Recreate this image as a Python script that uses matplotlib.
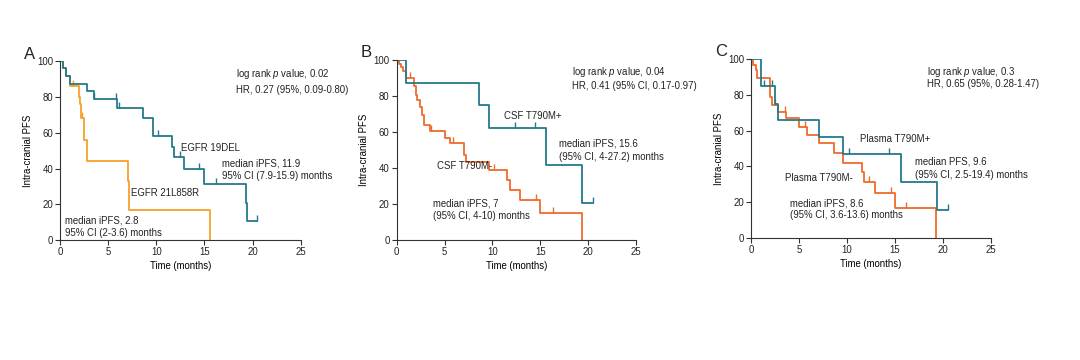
import matplotlib
matplotlib.use("Agg")
import matplotlib.pyplot as plt

plt.rcParams['font.family'] = ['Liberation Sans', 'DejaVu Sans']
plt.rcParams['mathtext.fontset'] = 'custom'
plt.rcParams['mathtext.rm'] = 'Liberation Sans'
plt.rcParams['mathtext.it'] = 'Liberation Sans:italic'

TEAL = "#23798b"
ORANGE_A = "#f5a02a"
ORANGE_BC = "#ef6b2b"

# ---- Panel A: EGFR 19DEL vs EGFR 21L858R ----
a_del_t = [0, 0.3, 0.6, 1.0, 2.8, 3.5, 5.9, 8.6, 9.6, 11.6, 11.8, 12.9, 15.0, 19.3, 19.4, 20.5]
a_del_s = [100, 96, 92, 87.5, 83.3, 79, 74, 68.5, 58, 52, 46.5, 40, 31.5, 21, 10.5, 10.5]
a_del_ct = [3.5, 5.8, 6.1, 10.2, 12.5, 14.4, 16.2, 20.5]
a_del_cs = [79, 79, 74, 58, 46.5, 40, 31.5, 10.5]

a_l858_t = [0, 0.3, 0.6, 1.0, 1.9, 2.05, 2.2, 2.5, 2.8, 7.0, 7.1, 15.6]
a_l858_s = [100, 96, 92, 86, 80, 76, 68, 56, 44.5, 33, 16.7, 0]
a_l858_ct = [1.3, 2.3]
a_l858_cs = [86, 68]

# ---- Panel B: CSF T790M+ vs CSF T790M- ----
b_pos_t = [0, 1.0, 8.6, 9.6, 15.6, 19.4, 20.5]
b_pos_s = [100, 87.5, 75, 62.5, 41.7, 20.8, 20.8]
b_pos_ct = [12.4, 14.4, 20.5]
b_pos_cs = [62.5, 62.5, 20.8]

b_neg_t = [0, 0.2, 0.5, 0.7, 1.0, 1.8, 2.0, 2.15, 2.4, 2.6, 2.85, 3.5, 5.05, 5.6, 7.0, 7.2,
           9.6, 11.5, 11.8, 12.9, 15.0, 19.4]
b_neg_s = [100, 98, 96, 94, 90, 85.5, 80.5, 77.8, 74, 69.4, 63.9, 60.5, 56.5, 53.7, 47.2, 43.5,
           38.8, 33.3, 27.8, 22.2, 14.8, 0]
b_neg_ct = [1.4, 3.6, 5.9, 10.2, 14.6, 16.3]
b_neg_cs = [90, 60.5, 53.7, 38.8, 22.2, 14.8]

# ---- Panel C: Plasma T790M+ vs Plasma T790M- ----
c_pos_t = [0, 1.0, 2.5, 2.8, 7.1, 9.6, 15.6, 19.4, 20.5]
c_pos_s = [100, 84.6, 75, 66, 56.6, 46.8, 31.5, 15.8, 15.8]
c_pos_ct = [1.4, 2.2, 10.2, 14.4, 20.5]
c_pos_cs = [84.6, 84.6, 46.8, 46.8, 15.8]

c_neg_t = [0, 0.2, 0.5, 0.6, 2.0, 2.2, 2.8, 3.6, 5.0, 5.8, 7.1, 8.6, 9.6, 11.6, 11.8, 12.9,
           15.0, 19.3]
c_neg_s = [100, 96.5, 93.5, 89.5, 78.8, 74.2, 70.5, 66.8, 61.8, 57.5, 52.9, 47.3, 42.1, 37.1,
           31.5, 25, 17, 0]
c_neg_ct = [2.5, 3.5, 5.6, 12.3, 14.6, 16.2]
c_neg_cs = [74.2, 70.5, 61.8, 31.5, 25, 17]

FS = 6.9

fig = plt.figure(figsize=(10.8, 3.6), dpi=100)
boxes = [[0.0558, 0.333, 0.2225, 0.497],
         [0.3673, 0.333, 0.2216, 0.5],
         [0.6954, 0.338, 0.222, 0.499]]

panels = [
    ("A", (a_del_t, a_del_s, a_del_ct, a_del_cs, TEAL),
          (a_l858_t, a_l858_s, a_l858_ct, a_l858_cs, ORANGE_A),
     [(18.3, 93, "log rank $\\it{p}$ value, 0.02"),
      (18.3, 84, "HR, 0.27 (95%, 0.09-0.80)"),
      (12.6, 51.5, "EGFR 19DEL"),
      (16.8, 43, "median iPFS, 11.9"),
      (16.8, 36, "95% CI (7.9-15.9) months"),
      (7.4, 26.4, "EGFR 21L858R"),
      (0.5, 10.8, "median iPFS, 2.8"),
      (0.5, 4, "95% CI (2-3.6) months")]),
    ("B", (b_pos_t, b_pos_s, b_pos_ct, b_pos_cs, TEAL),
          (b_neg_t, b_neg_s, b_neg_ct, b_neg_cs, ORANGE_BC),
     [(18.3, 93.2, "log rank $\\it{p}$ value, 0.04"),
      (18.3, 85.6, "HR, 0.41 (95% CI, 0.17-0.97)"),
      (11.2, 68.9, "CSF T790M+"),
      (17.0, 53.7, "median iPFS, 15.6"),
      (17.0, 46.3, "(95% CI, 4-27.2) months"),
      (4.2, 41, "CSF T790M-"),
      (3.8, 20.4, "median iPFS, 7"),
      (3.8, 13.3, "(95% CI, 4-10) months")]),
    ("C", (c_pos_t, c_pos_s, c_pos_ct, c_pos_cs, TEAL),
          (c_neg_t, c_neg_s, c_neg_ct, c_neg_cs, ORANGE_BC),
     [(18.3, 92.8, "log rank $\\it{p}$ value, 0.3"),
      (18.3, 85.7, "HR, 0.65 (95%, 0.28-1.47)"),
      (11.4, 55.5, "Plasma T790M+"),
      (17.1, 42.7, "median PFS, 9.6"),
      (17.1, 35.2, "(95% CI, 2.5-19.4) months"),
      (3.5, 33.8, "Plasma T790M-"),
      (4.1, 19.3, "median iPFS, 8.6"),
      (4.1, 13, "(95% CI, 3.6-13.6) months")]),
]

for box, (letter, top, bottom, notes) in zip(boxes, panels):
    ax = fig.add_axes(box)
    # draw the lower curve first so teal sits on top like the original
    for t, s, ct, cs, col in (bottom, top):
        ax.step(t, s, where="post", color=col, lw=1.3)
        ax.plot(ct, cs, linestyle="none", marker=2, color=col, markersize=4, mew=1.0)
    for x, y, txt in notes:
        ax.text(x, y, txt, fontsize=FS, va="center", ha="left", color="#222222")
    ax.set_xlim(0, 25)
    ax.set_ylim(0, 100)
    ax.set_xticks([0, 5, 10, 15, 20, 25])
    ax.set_yticks([0, 20, 40, 60, 80, 100])
    ax.spines["top"].set_visible(False)
    ax.spines["right"].set_visible(False)
    for sp in ("left", "bottom"):
        ax.spines[sp].set_linewidth(0.8)
        ax.spines[sp].set_color("#333333")
    ax.tick_params(labelsize=FS, length=3.5, width=0.8, pad=1.5, colors="#333333",
                   labelcolor="#222222")
    ax.set_xlabel("Time (months)", fontsize=FS, labelpad=3)
    ax.set_ylabel("Intra-cranial PFS", fontsize=FS, labelpad=3)
    ax.text(-0.15, 1.04, letter, transform=ax.transAxes, fontsize=12, va="center",
            ha="left", color="#222222")

fig.savefig("out.png", dpi=100, facecolor="white")
